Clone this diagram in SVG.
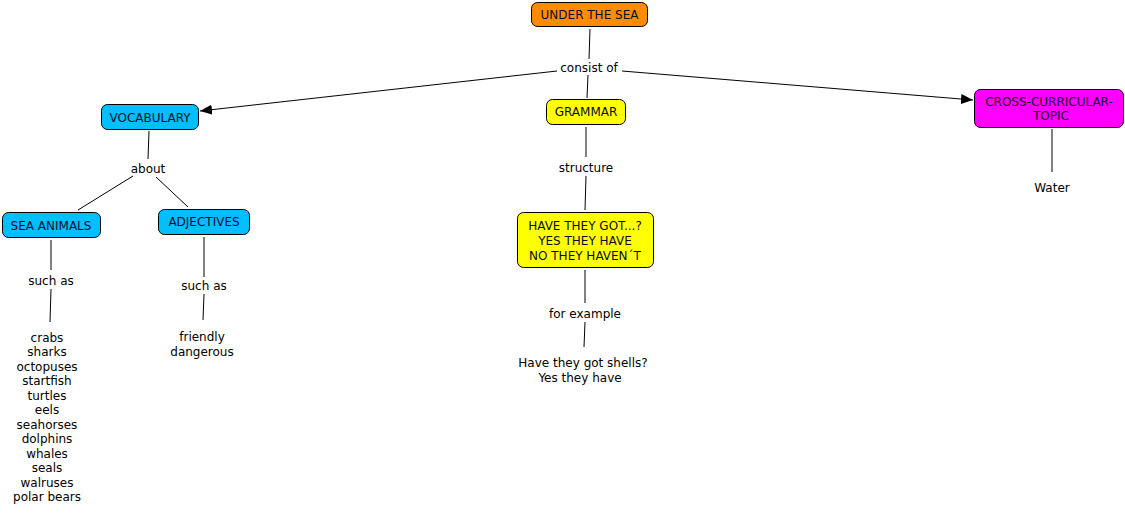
<svg xmlns="http://www.w3.org/2000/svg" width="1125" height="514" viewBox="0 0 1125 514">
<defs>
<style>
text{font-family:"DejaVu Sans","Verdana",sans-serif;font-size:12px;fill:#000;text-anchor:middle;dominant-baseline:central}
.n rect{stroke:#000;stroke-width:1;rx:6;ry:6}
.n text{fill:#0a0a28}
.c line{stroke:#000;stroke-width:1}
</style>
<marker id="ah" viewBox="0 0 12 10" refX="12" refY="5" markerWidth="12" markerHeight="10" markerUnits="userSpaceOnUse" orient="auto">
<path d="M0,0 L12,5 L0,10 Z" fill="#000"/>
</marker>
</defs>
<rect width="1125" height="514" fill="#fff"/>
<g class="c" id="connectors">
<line x1="590" y1="29" x2="589" y2="59"/>
<line x1="588" y1="75" x2="587" y2="98"/>
<line x1="557" y1="71" x2="200" y2="111" marker-end="url(#ah)"/>
<line x1="622" y1="71" x2="973" y2="100" marker-end="url(#ah)"/>
<line x1="149" y1="131" x2="148" y2="159"/>
<line x1="133" y1="176" x2="78" y2="210"/>
<line x1="156" y1="177" x2="188" y2="207"/>
<line x1="51" y1="240" x2="51" y2="270"/>
<line x1="51" y1="289" x2="50" y2="322"/>
<line x1="204" y1="237" x2="204" y2="277"/>
<line x1="204" y1="294" x2="203" y2="320"/>
<line x1="586" y1="127" x2="586" y2="157"/>
<line x1="586" y1="176" x2="585" y2="210"/>
<line x1="585" y1="270" x2="585" y2="303"/>
<line x1="585" y1="322" x2="584" y2="347"/>
<line x1="1052" y1="129" x2="1052" y2="172"/>
</g>
<g class="n" id="under-the-sea"><rect x="531.5" y="2.5" width="116" height="24" fill="#FF8C00"/><text x="589.5" y="15">UNDER THE SEA</text></g>
<g id="consist-of"><text x="589" y="67.5">consist of</text></g>
<g class="n" id="vocabulary"><rect x="101.5" y="104.5" width="97" height="25" fill="#00BFFF"/><text x="150" y="117.5">VOCABULARY</text></g>
<g class="n" id="grammar"><rect x="546.5" y="99.5" width="79" height="25" fill="#FFFF00"/><text x="586" y="112">GRAMMAR</text></g>
<g class="n" id="cross"><rect x="974.5" y="89.5" width="149" height="38" fill="#FF00FF"/><text x="1049" y="101.5">CROSS-CURRICULAR-</text><text x="1051" y="115.5">TOPIC</text></g>
<g id="about"><text x="148" y="168.5">about</text></g>
<g class="n" id="sea-animals"><rect x="2.5" y="212.5" width="98" height="25" fill="#00BFFF"/><text x="51" y="225.5">SEA ANIMALS</text></g>
<g class="n" id="adjectives"><rect x="158.5" y="209.5" width="91" height="25" fill="#00BFFF"/><text x="204" y="222">ADJECTIVES</text></g>
<g id="such-as-1"><text x="51" y="280.5">such as</text></g>
<g id="such-as-2"><text x="204" y="285.5">such as</text></g>
<g id="friendly"><text x="202" y="336.5">friendly</text><text x="202" y="351.5">dangerous</text></g>
<g id="animals-list">
<text x="47" y="337.5">crabs</text>
<text x="47" y="352">sharks</text>
<text x="47" y="366.5">octopuses</text>
<text x="47" y="381">startfish</text>
<text x="47" y="395.5">turtles</text>
<text x="47" y="410">eels</text>
<text x="47" y="424.5">seahorses</text>
<text x="47" y="439">dolphins</text>
<text x="47" y="453.5">whales</text>
<text x="47" y="468">seals</text>
<text x="47" y="482.5">walruses</text>
<text x="47" y="497">polar bears</text>
</g>
<g id="structure"><text x="586" y="167.5">structure</text></g>
<g class="n" id="have-they-got"><rect x="517.5" y="212.5" width="136" height="55" fill="#FFFF00"/><text x="585" y="225.5">HAVE THEY GOT...?</text><text x="585" y="240.5">YES THEY HAVE</text><text x="585" y="255.5">NO THEY HAVEN´T</text></g>
<g id="for-example"><text x="585" y="313.5">for example</text></g>
<g id="example"><text x="583" y="362.5">Have they got shells?</text><text x="580" y="377.5">Yes they have</text></g>
<g id="water"><text x="1052" y="187.5">Water</text></g>
</svg>
